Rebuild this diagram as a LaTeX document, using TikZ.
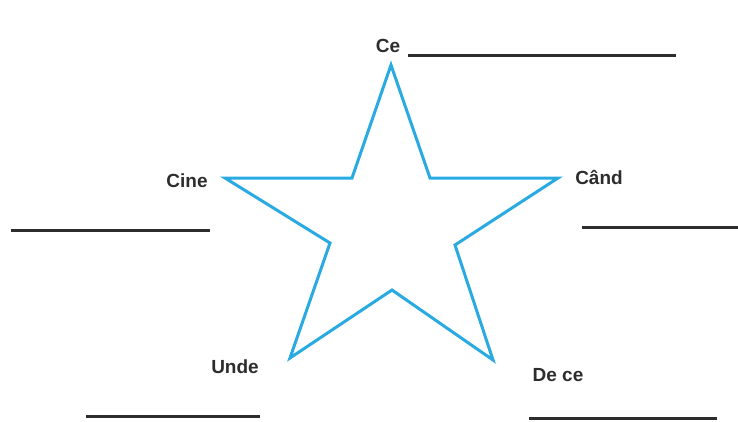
\documentclass[tikz,border=0pt]{standalone}
\usepackage{fontspec}
\setmainfont{Liberation Sans}
\usepackage{tikz}
\usetikzlibrary{positioning}
\definecolor{starblue}{RGB}{41,171,226}
\definecolor{inkgray}{RGB}{45,45,45}

\begin{document}
\begin{tikzpicture}[x=1pt, y=-1pt, line join=miter,
  lbl/.style={font=\fontsize{19}{21}\selectfont\bfseries, text=inkgray, inner sep=0pt},
  blank/.style={draw=inkgray, line width=3pt}]
  \useasboundingbox (0,0) rectangle (738,421);
  % star outline
  \draw[starblue, line width=3pt]
    (391,65) -- (430,178) -- (558,178) -- (455,245) -- (493,360)
    -- (392,290) -- (290,358) -- (330,243) -- (225,178) -- (352,178) -- cycle;
  % labels
  \node[lbl] (ce) at (388,46) {Ce};
  \node[lbl] (cine) at (187,181) {Cine};
  \node[lbl] (cand) at (599,177) {Când};
  \node[lbl] (unde) at (235,367) {Unde};
  \node[lbl] (dece) at (558,375) {De ce};
  % answer lines
  \coordinate (ce1) at (408,55);   \coordinate (ce2) at (676,55);
  \coordinate (cine1) at (11,230); \coordinate (cine2) at (210,230);
  \coordinate (cand1) at (582,227); \coordinate (cand2) at (738,227);
  \coordinate (unde1) at (86,416); \coordinate (unde2) at (260,416);
  \coordinate (dece1) at (529,418); \coordinate (dece2) at (717,418);
  \draw[blank] (ce1) -- (ce2);
  \draw[blank] (cine1) -- (cine2);
  \draw[blank] (cand1) -- (cand2);
  \draw[blank] (unde1) -- (unde2);
  \draw[blank] (dece1) -- (dece2);
\end{tikzpicture}
\end{document}
